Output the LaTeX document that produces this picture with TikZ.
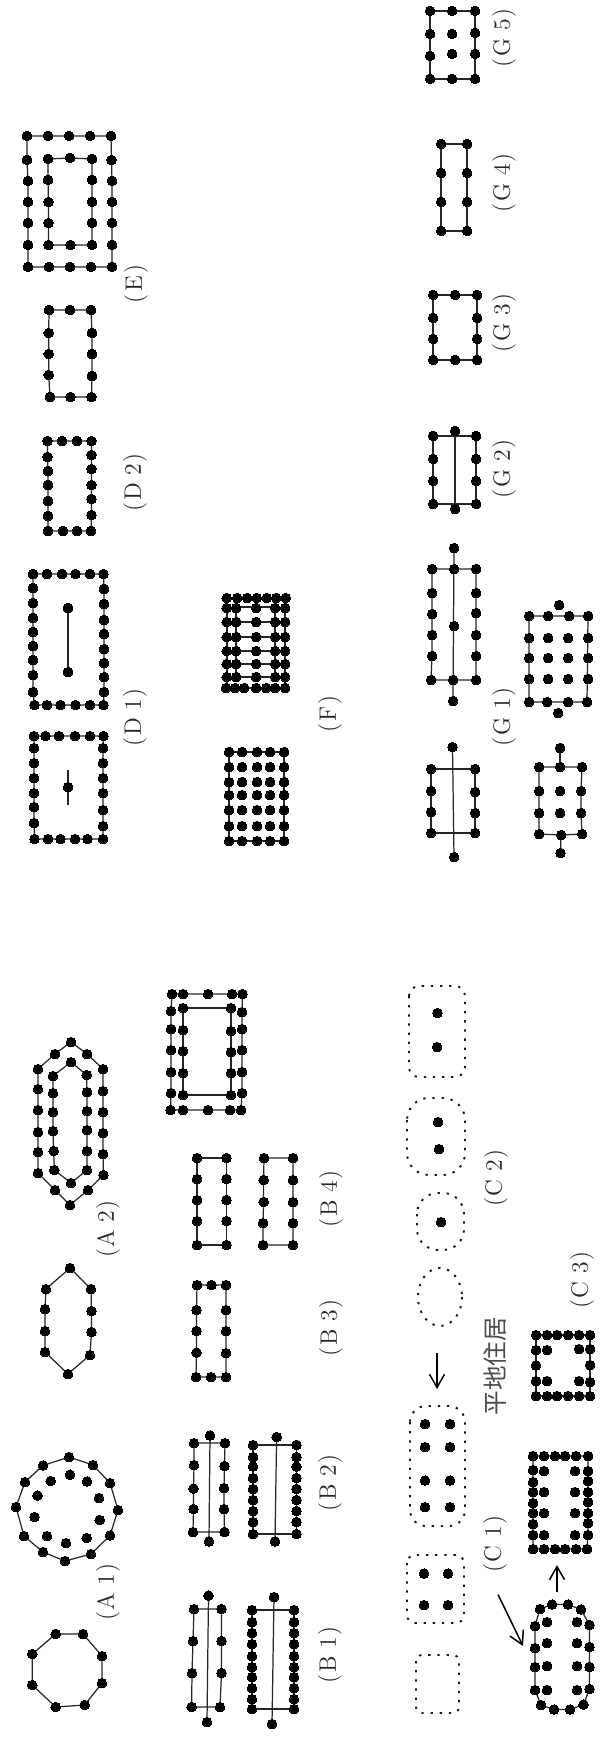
\documentclass[tikz,border=0pt]{standalone}
\usepackage{fontspec}
\usetikzlibrary{arrows.meta}
\newfontfamily\jpfont{Noto Sans CJK JP}
\tikzset{
  wire/.style={line width=.7pt, black!85},
  dotline/.style={line width=1.1pt, black!90, dash pattern=on 1.3pt off 3.9pt},
  tag/.style={rotate=90, black!85, inner sep=0pt, font=\fontsize{13.5}{15}\selectfont},
  pointer/.style={line width=.85pt, -{Straight Barb[length=7.5pt,width=8.5pt]}}
}
\newcommand{\spots}[1]{\path plot[only marks, mark=*, mark size=2.75pt, mark options={draw=black, fill=black, line width=0pt}] coordinates {#1};}
\newcommand{\ring}[1]{\draw[wire] plot coordinates {#1} -- cycle; \spots{#1}}
\begin{document}
\begin{tikzpicture}[x=.02cm, y=-.02cm]
  \useasboundingbox (0,0) rectangle (600,1746);
  % A
  \ring{(55.7,1634) (83,1634) (102,1656) (102,1683) (84.7,1705) (55.7,1707) (32.3,1685) (32.3,1654)}
  \ring{(69,1457) (93,1465) (110,1483) (118,1510) (110,1535.5) (91,1554) (65,1561) (43,1552) (24,1536) (16,1507) (25,1482) (43,1465.5)}
  \spots{(70,1474.6) (87,1481.5) (99,1498) (99.6,1520) (86.6,1538) (66,1543) (47,1536) (34.5,1517) (37.5,1495.5) (50.6,1481)}
  \ring{(70,1268) (91,1289) (91.5,1311) (91.5,1332) (90,1355) (68,1374) (45,1352) (45,1331) (45,1309) (46,1289)}
  \ring{(71,1042) (87,1054) (103,1069) (103,1091) (103,1112) (103,1133) (103,1154) (103.5,1175) (88,1190) (70,1205) (55,1190) (38,1173) (38,1152) (38,1132) (38,1110) (38,1089) (38,1069) (55,1054)}
  \ring{(71,1062) (86.6,1075) (87,1092) (87,1111) (87,1130) (87,1151) (87,1170) (71,1183) (54.4,1170) (53.6,1151) (53,1131) (53,1112) (53,1093) (53,1076)}
  % B
  \draw[wire] (208.5,1595.5) -- (207,1722);
  \ring{(194,1609) (221.5,1609) (221.5,1641) (221.5,1673) (220,1707) (191.6,1707) (192,1673) (193,1641)}
  \spots{(208.5,1595.5) (207,1722)}
  \draw[wire] (274,1597) -- (272,1724);
  \ring{(252,1610) (294,1610) (294,1622) (294,1633) (294,1644) (294,1656) (294,1667) (294,1677) (294,1688) (294,1699) (294,1709) (252,1709) (252,1699) (252,1688) (252,1677) (252,1667) (252,1656) (252,1644) (252,1633) (252,1622)}
  \spots{(274,1597) (272,1724)}
  \draw[wire] (210,1435.5) -- (209,1541.5);
  \ring{(194,1443) (225,1443) (224.5,1466) (224,1488) (224,1509) (224.5,1532) (193,1532) (193.5,1509) (193.5,1488.5) (194,1465)}
  \spots{(210,1435.5) (209,1541.5)}
  \draw[wire] (276.6,1437) -- (275,1541.5);
  \ring{(253,1445) (296.5,1445) (296.5,1457) (296.5,1466.5) (296.5,1478) (296.5,1489) (296.5,1500) (296.5,1511) (296.5,1522) (296.5,1534) (253,1534) (253,1522) (253,1511) (253,1500) (253,1489) (253,1478) (253,1466.5) (253,1457)}
  \spots{(276.6,1437) (275,1541.5)}
  \ring{(197,1285) (211.5,1285) (226,1285) (226,1310) (226,1331) (226,1353) (226,1377) (211,1377) (196,1377) (196.5,1352.6) (196.5,1331) (196.5,1310)}
  \ring{(197,1158) (226.5,1158) (226.5,1179) (226.5,1200) (226.5,1221) (226.5,1245) (197,1245) (197,1221) (197,1200) (197,1179)}
  \ring{(264,1158) (293,1158) (293,1180) (293,1202) (293,1223) (293,1245) (263,1245) (263,1223) (263.6,1202) (263.6,1180)}
  \ring{(172,994) (183,994) (208,994) (232,994) (242.5,994) (242,1012) (242,1029) (242,1050) (242,1072) (242,1093) (241,1110) (230,1110) (208,1110) (183,1110) (170.5,1110) (171,1093) (171,1072) (171,1050) (171,1029) (171,1011)}
  \ring{(183,1008) (231,1008) (231,1031) (231,1052) (231,1073) (231,1095) (183,1095) (183,1073) (183,1051) (183,1030)}
  % C
  \draw[dotline, rounded corners=.12cm] (416,1655) rectangle (459,1713);
  \draw[dotline, rounded corners=.16cm] (407,1555) rectangle (464,1623);
  \draw[dotline, rounded corners=.32cm] (410,1406) rectangle (465,1526);
  \draw[dotline] (440,1297) ellipse[x radius=22, y radius=29];
  \draw[dotline, rounded corners=.42cm] (417,1193) rectangle (464,1250);
  \draw[dotline, rounded corners=.44cm] (407,1098) rectangle (465,1175);
  \draw[dotline, rounded corners=.2cm] (409,986) rectangle (465,1077);
  \spots{(424,1573.5) (448,1573.5) (424,1605) (448,1605)}
  \spots{(425,1424) (450,1424) (425,1447) (450,1447) (425,1480.5) (450,1480.5) (425,1507) (450,1507)}
  \spots{(441,1222) (438,1122) (439,1149) (437.5,1013) (437,1047)}
  \coordinate (backS) at (437,1353);
  \coordinate (backE) at (437,1389);
  \draw[pointer] (backS) -- (backE);
  \coordinate (longS) at (498,1594.5);
  \coordinate (longE) at (523,1646);
  \draw[pointer] (longS) -- (longE);
  \coordinate (upS) at (557,1592);
  \coordinate (upE) at (557,1565);
  \draw[pointer] (upS) -- (upE);
  \ring{(540,1609) (552,1604.5) (568,1604.5) (581,1609.5) (589.5,1625) (589.5,1647) (589.5,1667) (589.5,1689) (583.5,1704.5) (570,1709.5) (554,1709.5) (541,1705) (535,1690) (535,1667) (535,1648) (535,1626)}
  \spots{(547,1622) (547,1643) (547,1666) (547,1690) (577,1622) (577,1643) (577,1666) (577,1690)}
  \ring{(533,1456) (544,1456) (555,1456) (565,1456) (576,1456) (588,1456) (588,1471) (588,1481) (588,1492) (588,1502) (588,1513) (588,1523) (588,1535) (587,1549) (576,1549) (565,1549) (555,1549) (544,1549) (533,1549) (533,1535) (533,1524) (533,1513) (533,1503) (533,1492) (533,1482) (533,1470)}
  \spots{(544,1471) (575,1471) (544,1492) (575,1492) (544,1513) (575,1513) (544,1535) (575,1535)}
  \ring{(536,1335) (547,1335) (557,1335) (568,1335) (579,1335) (590,1335) (590,1349) (590,1365) (590,1382) (590,1396) (579,1396) (568,1396) (557,1396) (547,1396) (536,1396) (536,1381) (536,1365.5) (536,1350)}
  \spots{(547,1350) (579,1349) (547,1381) (579,1381)}
  % D, E
  \ring{(33,574) (47,574) (62,574) (75.5,574) (90,574) (103.5,574) (104,589) (104,604) (104,620) (104,634) (104,649) (104,663) (104,677) (104,692) (103.5,705) (90,705) (75.5,705) (60.5,705) (47,705) (34.5,705) (33,692) (33,675) (33,660) (33,646) (33,632) (33,618) (33,603) (33,588)}
  \draw[wire] (68,608) -- (68,672);
  \spots{(68,608) (68,672)}
  \ring{(34,736) (45.5,736) (59,736) (75,736) (90,736) (103.5,736) (103,748) (103,763) (103,778) (103,793) (103,810) (103,826) (103,839) (87.5,839) (75,839) (60.5,839) (48,839) (34.5,839) (34,823) (34,807) (34,793) (34,778) (34,763) (34,748)}
  \draw[wire] (68,770) -- (68,805);
  \spots{(68,787)}
  \ring{(47.5,441) (62,441) (77,441) (91.5,441) (91.5,455) (91.5,469) (91.5,485) (91.5,499) (91.5,515) (91,531) (77,531) (63,531) (48,531) (48,516) (48,501) (48,485) (48,471) (47.5,457)}
  \ring{(49,310) (70,310) (91,310) (92,333) (92,354) (92,376) (91.5,397) (70.5,397) (50,397) (48.7,375) (48.7,354) (48.7,333)}
  \ring{(27,136) (48,136) (69,136) (90,136) (111,136) (111.5,160) (112,181) (112,202) (112,223) (112,245) (112,267) (91,267) (70,267) (49,267) (28,267) (28,245) (28,223) (28,202) (28,181) (27,160)}
  \ring{(48,159) (70,158) (92,159) (92,180) (92,202) (92,223) (92,245) (70.5,245) (48.5,245) (48.5,223) (48.5,202) (48,180)}
  % F
  \draw[wire] (227,598) rectangle (285,688);
  \draw[wire] (236,607) rectangle (275,677);
  \foreach \y in {622,637,651,664} {
    \draw[wire] (236,\y) -- (275,\y);
  }
  \foreach \y in {608,622,637,651,664,677} {
    \spots{(226.7,\y) (236,\y) (256,\y) (275,\y) (285,\y)}
  }
  \spots{(226.7,598) (237,598) (247,598) (256.7,598) (266.7,598) (276,598) (285.7,598)}
  \spots{(226,688) (235,688) (244,688) (256,688) (266,688) (275,688) (285,688)}
  \draw[wire] (229,752) rectangle (284,841);
  \foreach \y in {752,767,782,795,810,826,841} {
    \spots{(229,\y) (242,\y) (257,\y) (270,\y) (284,\y)}
  }
  % G
  \ring{(430,11) (452,11) (475,11) (475,33) (475,54) (475,79) (452,79) (430,79) (430,56) (430,34)}
  \spots{(452,34) (452,54)}
  \ring{(441,144) (467,144) (467,173) (467,202) (467,231) (441,231) (441,202) (441,173)}
  \ring{(433,295) (455,295) (477,295) (477,318) (477,339) (477,360) (455,360) (433,360) (433,339) (433,318)}
  \draw[wire] (455,431) -- (455,509);
  \ring{(433,436) (476,436) (476,459) (476,481) (476,504) (433,504) (433,481) (433,459)}
  \spots{(455,431) (455,509)}
  \draw[wire] (454,548) -- (453,701);
  \ring{(432,569) (454,569) (476,569) (476,593) (476,613) (476,635) (476,656) (476,680) (453,680) (431,680) (432,656) (432,635) (432,614) (432,593)}
  \spots{(454,548) (454,626) (453,701)}
  \draw[wire] (452.5,747) -- (454,857);
  \ring{(431,769) (475,769) (475,792) (475,813) (475,833) (431,833) (431,812) (431,791)}
  \spots{(452.5,747) (454,857)}
  \ring{(529,616) (548,616) (569,616) (588,616) (587,702) (568,702) (547,702) (529,702)}
  \foreach \y in {638,658,679} {
    \spots{(529,\y) (548,\y) (568,\y) (588,\y)}
  }
  \spots{(559,605) (558,713)}
  \draw[wire] (560,748) -- (560,767);
  \draw[wire] (561,835) -- (560.5,853);
  \ring{(539,767) (560,767) (582,767) (581,791) (581,813) (582,834) (561,835) (539,834) (539,813) (539,791)}
  \spots{(560,791) (560,813) (560,748) (560.5,853)}
  % labels
  \foreach \x/\y/\a/\b in {108/1592/A/1, 108/1229/A/2, 330/1655/B/1, 330/1483/B/2, 331/1328/B/3, 331/1199/B/4, 495/1544/C/1, 496/1178/C/2, 582/1280/C/3, 135/717/D/1, 135/482/D/2, 504/717/G/1, 504/469/G/2, 504/323/G/3, 504/183/G/4, 504/38/G/5} {
    \node[tag] (lab\a\b) at (\x,\y) {(\hspace{.06em}\a\ \b\hspace{.06em})};
  }
  \node[tag] (labE) at (136,284) {(\hspace{.1em}E\hspace{.1em})};
  \node[tag] (labF) at (330,714) {(\hspace{.1em}F\hspace{.1em})};
  \node[tag, black!70, font=\jpfont\fontsize{14}{16}\selectfont] (house) at (495,1366) {平地住居};
\end{tikzpicture}
\end{document}
